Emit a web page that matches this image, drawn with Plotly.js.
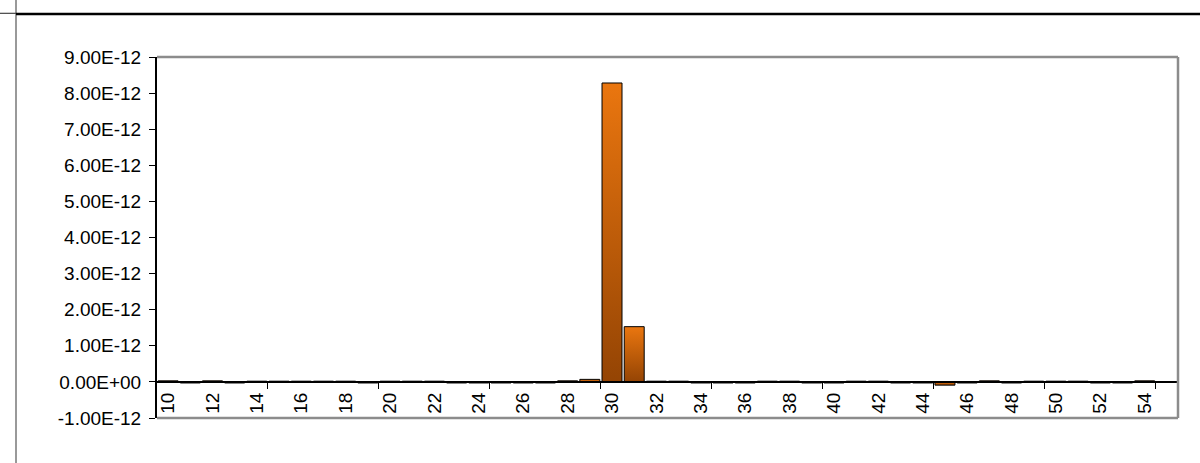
<!DOCTYPE html>
<html>
<head>
<meta charset="utf-8">
<script src="https://cdn.plot.ly/plotly-3.0.1.min.js"></script>
<style>
  html, body { margin: 0; padding: 0; background: #fff; }
  #chart { width: 1200px; height: 463px; }
</style>
</head>
<body>
<div id="chart"></div>
<script>
// categories 10..55
var categories = [10, 11, 12, 13, 14, 15, 16, 17, 18, 19,
                  20, 21, 22, 23, 24, 25, 26, 27, 28, 29,
                  30, 31, 32, 33, 34, 35, 36, 37, 38, 39,
                  40, 41, 42, 43, 44, 45, 46, 47, 48, 49,
                  50, 51, 52, 53, 54, 55];

// values in units of 1E-12
var values = [0.03, -0.03, 0.03, -0.03, 0.02, 0.02, 0.02, 0.02, 0.02, -0.03,
              0.02, 0.02, 0.02, -0.03, -0.03, -0.03, -0.03, -0.03, 0.03, 0.07,
              8.28, 1.53, 0.02, 0.02, -0.03, -0.03, -0.03, 0.02, 0.02, -0.03,
              -0.03, 0.02, 0.02, -0.03, -0.03, -0.09, -0.03, 0.03, -0.03, 0.02,
              0.02, 0.02, -0.03, -0.03, 0.03, -0.01];

var xLabels = [10, 12, 14, 16, 18, 20, 22, 24, 26, 28, 30, 32,
               34, 36, 38, 40, 42, 44, 46, 48, 50, 52, 54];
var xTickMarks = [14.5, 19.5, 24.5, 29.5, 34.5, 39.5, 44.5, 49.5, 54.5];

var yTicks = [-1, 0, 1, 2, 3, 4, 5, 6, 7, 8, 9];
var yTickLabels = ['-1.00E-12', '0.00E+00', '1.00E-12', '2.00E-12', '3.00E-12',
                   '4.00E-12', '5.00E-12', '6.00E-12', '7.00E-12', '8.00E-12', '9.00E-12'];

var scale = 1e-12;

var trace = {
  type: 'bar',
  x: categories,
  y: values.map(function (v) { return v * scale; }),
  marker: { color: '#c85c0a', line: { color: '#000', width: 1 } },
  hoverinfo: 'skip'
};

var font = { family: 'Liberation Sans, Arial, sans-serif', size: 19, color: '#000' };

var layout = {
  width: 1200,
  height: 463,
  margin: { l: 157, r: 22, t: 57, b: 45 },
  paper_bgcolor: '#fff',
  plot_bgcolor: '#fff',
  showlegend: false,
  bargap: 0.1,
  font: font,
  xaxis: {
    range: [9.5, 55.5],
    anchor: 'free',
    position: 0.1,
    showline: true,
    linecolor: '#000',
    linewidth: 2,
    showgrid: false,
    zeroline: false,
    tickmode: 'array',
    tickvals: xLabels,
    ticktext: xLabels.map(String),
    tickangle: -90,
    ticks: 'outside',
    ticklen: 0.1,
    tickcolor: 'rgba(0,0,0,0)',
    ticklabelstandoff: 2,
    tickfont: font,
    minor: {
      tickmode: 'array',
      tickvals: xTickMarks,
      ticks: 'outside',
      ticklen: 6,
      tickwidth: 1,
      tickcolor: '#000',
      showgrid: false
    }
  },
  yaxis: {
    range: [-1 * scale, 9 * scale],
    showline: true,
    linecolor: '#000',
    linewidth: 2,
    showgrid: false,
    zeroline: false,
    tickmode: 'array',
    tickvals: yTicks.map(function (v) { return v * scale; }),
    ticktext: yTickLabels,
    ticks: 'outside',
    ticklen: 6,
    tickwidth: 1,
    tickcolor: '#000',
    ticklabelstandoff: 4,
    tickfont: font
  },
  shapes: [
    // plot frame (top, right, bottom)
    { type: 'line', xref: 'paper', yref: 'paper', x0: 0, x1: 1, y0: 1, y1: 1,
      line: { color: '#8c8c8c', width: 2.5 } },
    { type: 'line', xref: 'paper', yref: 'paper', x0: 1, x1: 1, y0: 0, y1: 1,
      line: { color: '#8c8c8c', width: 2.5 } },
    { type: 'line', xref: 'paper', yref: 'paper', x0: 0, x1: 1, y0: 0, y1: 0,
      line: { color: '#8c8c8c', width: 2.5 } },
    // sheet lines around the chart
    { type: 'line', xref: 'paper', yref: 'paper', x0: -0.1381, x1: -0.1381, y0: -0.13, y1: 1.16,
      line: { color: '#555', width: 1.2 } },
    { type: 'line', xref: 'paper', yref: 'paper', x0: -0.1381, x1: 1.03, y0: 1.119, y1: 1.119,
      line: { color: '#000', width: 2.5 } },
    { type: 'line', xref: 'paper', yref: 'paper', x0: -0.16, x1: -0.1381, y0: 1.121, y1: 1.121,
      line: { color: '#444', width: 1.2 } }
  ]
};

var config = { staticPlot: true, displayModeBar: false };

Plotly.newPlot('chart', [trace], layout, config).then(function (gd) {
  // Excel-like vertical gradient on each bar
  var svgNS = 'http://www.w3.org/2000/svg';
  var defs = gd.querySelector('.main-svg defs');
  var grad = document.createElementNS(svgNS, 'linearGradient');
  grad.setAttribute('id', 'barGrad');
  grad.setAttribute('x1', '0'); grad.setAttribute('y1', '0');
  grad.setAttribute('x2', '0'); grad.setAttribute('y2', '1');
  [['0%', '#ea760f'], ['100%', '#944404']].forEach(function (s) {
    var stop = document.createElementNS(svgNS, 'stop');
    stop.setAttribute('offset', s[0]);
    stop.setAttribute('stop-color', s[1]);
    grad.appendChild(stop);
  });
  defs.appendChild(grad);
  gd.querySelectorAll('.trace.bars .point path').forEach(function (p) {
    p.style.fill = 'url(#barGrad)';
  });
});
</script>
</body>
</html>
